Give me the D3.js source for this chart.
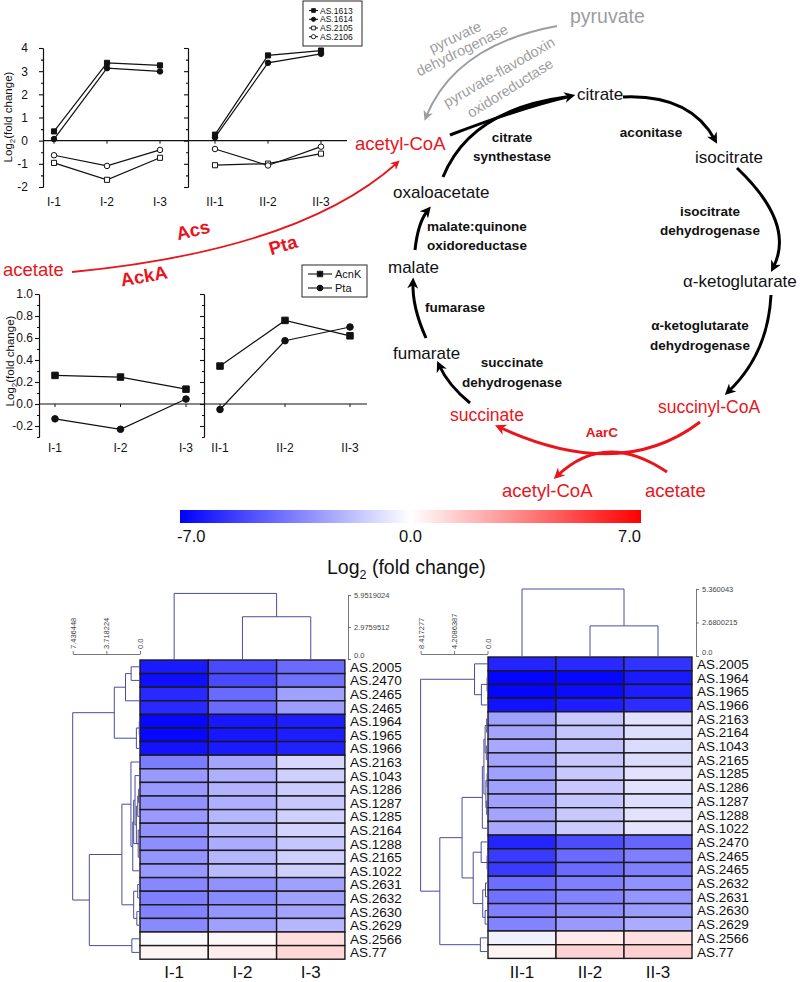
<!DOCTYPE html>
<html>
<head>
<meta charset="utf-8">
<script src="https://cdn.jsdelivr.net/npm/d3@7"></script>
<style>
body { margin: 0; background: #fff; }
svg { display: block; }
</style>
</head>
<body>
<svg id="fig" width="800" height="982"></svg>
<script>
// ---- values ----
const groupI = ["I-1", "I-2", "I-3"];
const groupII = ["II-1", "II-2", "II-3"];

// top line chart: log2 fold change at I-1..I-3, II-1..II-3
const topNames = ["AS.1613", "AS.1614", "AS.2105", "AS.2106"];
const as1613 = [0.40, 3.36, 3.25, 0.26, 3.68, 3.89];
const as1614 = [0.07, 3.13, 2.99, 0.14, 3.36, 3.75];
const as2105 = [-0.96, -1.69, -0.74, -1.06, -0.99, -0.56];
const as2106 = [-0.63, -1.09, -0.40, -0.36, -1.07, -0.26];
const topTicks = [-2, -1, 0, 1, 2, 3, 4];
const topMinor = [-1.5, -0.5, 0.5, 1.5, 2.5, 3.5];

// middle line chart
const midNames = ["AcnK", "Pta"];
const acnK = [0.26, 0.245, 0.135, 0.345, 0.76, 0.62];
const pta = [-0.135, -0.23, 0.045, -0.05, 0.575, 0.70];
const midTicks = [-0.2, 0.0, 0.2, 0.4, 0.6, 0.8, 1.0];
const midMinor = [-0.3, -0.1, 0.1, 0.3, 0.5, 0.7, 0.9];

// heatmaps
const leftGenes = ["AS.2005", "AS.2470", "AS.2465", "AS.2465", "AS.1964", "AS.1965", "AS.1966", "AS.2163",
  "AS.1043", "AS.1286", "AS.1287", "AS.1285", "AS.2164", "AS.1288", "AS.2165", "AS.1022",
  "AS.2631", "AS.2632", "AS.2630", "AS.2629", "AS.2566", "AS.77"];
const leftI1 = [-6.3, -6.6, -5.9, -5.9, -6.8, -6.8, -6.5, -3.6, -2.8, -2.8, -3.0, -2.8, -3.0, -3.1, -2.9, -2.8, -3.3, -3.5, -3.4, -3.2, -0.1, 0.3];
const leftI2 = [-5.0, -5.0, -4.1, -4.1, -6.4, -6.4, -6.3, -2.5, -2.2, -2.1, -2.2, -2.0, -2.0, -2.3, -2.0, -1.9, -3.0, -3.2, -2.9, -2.6, 0.2, 0.5];
const leftI3 = [-4.1, -3.9, -2.6, -2.7, -6.2, -6.2, -6.1, -1.1, -1.3, -1.4, -1.5, -1.3, -1.2, -1.6, -1.3, -1.3, -2.6, -2.6, -2.5, -2.0, 0.9, 1.1];

const rightGenes = ["AS.2005", "AS.1964", "AS.1965", "AS.1966", "AS.2163", "AS.2164", "AS.1043", "AS.2165",
  "AS.1285", "AS.1286", "AS.1287", "AS.1288", "AS.1022", "AS.2470", "AS.2465", "AS.2465",
  "AS.2632", "AS.2631", "AS.2630", "AS.2629", "AS.2566", "AS.77"];
const rightII1 = [-6.0, -6.9, -6.9, -6.5, -2.6, -2.5, -2.4, -2.5, -2.6, -2.6, -2.6, -2.5, -2.4, -6.0, -5.4, -5.4, -4.0, -3.9, -3.5, -3.4, -0.4, 0.3];
const rightII2 = [-5.9, -6.8, -6.7, -6.2, -1.5, -1.6, -1.7, -1.5, -1.5, -1.5, -1.6, -1.5, -1.4, -4.9, -4.1, -4.1, -3.5, -3.4, -3.1, -2.8, 0.6, 1.2];
const rightII3 = [-5.6, -6.3, -6.2, -5.8, -0.8, -0.9, -1.0, -0.95, -0.8, -0.8, -0.9, -0.8, -0.75, -4.2, -3.5, -3.5, -3.0, -2.9, -2.7, -2.3, 0.85, 1.3];

// dendrogram merges [a, b, height]; leaves are indices, merged nodes are numbered after the leaves
const leftRowMerges = [[0, 1, 0.98], [2, 3, 0.05], [22, 23, 1.6], [4, 5, 0.08], [25, 6, 0.4], [24, 26, 2.84],
  [9, 10, 0.15], [28, 11, 0.25], [12, 14, 0.2], [29, 30, 0.4], [8, 31, 0.55], [32, 13, 0.7], [33, 15, 0.8], [7, 34, 1.0],
  [16, 17, 0.25], [18, 19, 0.35], [36, 37, 0.7], [35, 38, 2.0], [20, 21, 0.9], [39, 40, 5.6], [27, 41, 7.436448]];
const rightRowMerges = [[1, 2, 0.05], [22, 3, 0.77], [0, 23, 1.63],
  [4, 5, 0.1], [6, 7, 0.15], [8, 9, 0.05], [10, 11, 0.1], [27, 28, 0.2], [25, 26, 0.3], [30, 29, 0.45], [31, 12, 0.65],
  [14, 15, 0.05], [13, 33, 0.8], [16, 17, 0.25], [18, 19, 0.3], [35, 36, 0.6], [34, 37, 1.8], [32, 38, 3.2],
  [20, 21, 0.9], [39, 40, 6.0], [24, 41, 8.417277]];
const leftColMerges = [[1, 2, 3.93], [0, 3, 6.1]];
const rightColMerges = [[1, 2, 2.41], [0, 3, 5.36]];
const leftRowScale = [0.0, 3.718224, 7.436448];
const leftColScale = [0.0, 2.9759512, 5.9519024];
const rightRowScale = [0.0, 4.2086387, 8.417277];
const rightColScale = [0.0, 2.6800215, 5.360043];
const colorTicks = [-7.0, 0.0, 7.0];

// ---- drawing ----
const FONT = '"Liberation Sans", Arial, sans-serif';
const RED = "#e8151c", GRAY = "#9d9d9d", DENDRO = "#4c4c9c", INK = "#111";
const svg = d3.select("#fig").attr("font-family", FONT);
const defs = svg.append("defs");
const heat = d3.scaleLinear().domain([-7, 0, 7]).range(["#0000ff", "#ffffff", "#ff0000"]);

[["arrBlack", "#000", 12, 11], ["arrRed", RED, 12, 11], ["arrRedThin", RED, 10, 9], ["arrGray", GRAY, 11, 10]]
  .forEach(([id, c, w, h]) => {
    defs.append("marker").attr("id", id).attr("viewBox", "0 0 10 10")
      .attr("refX", 6).attr("refY", 5).attr("markerWidth", w).attr("markerHeight", h)
      .attr("markerUnits", "userSpaceOnUse").attr("orient", "auto")
      .append("path").attr("d", "M0,0L10,5L0,10L3,5Z").attr("fill", c);
  });

function lineChart(o) {
  const g = svg.append("g");
  const y = d3.scaleLinear().domain(o.yDomain).range(o.yRange);
  const xI = d3.scalePoint().domain(groupI).range(o.xI);
  const xII = d3.scalePoint().domain(groupII).range(o.xII);
  const labels = groupI.concat(groupII);
  const xOf = i => i < 3 ? xI(groupI[i]) : xII(groupII[i - 3]);

  const axis = (x, ticks, size, fmt, pad) => g.append("g")
    .attr("transform", `translate(${x},0)`)
    .call(d3.axisLeft(y).tickValues(ticks).tickSize(size).tickSizeOuter(0).tickPadding(pad).tickFormat(fmt))
    .attr("font-size", 12).attr("font-family", FONT);
  axis(o.axisX, o.ticks, 4, o.fmt, o.pad);
  axis(o.axisX, o.minor, 2, "", 0);
  axis(o.breakX, o.ticks, 4, "", 0);
  axis(o.breakX, o.minor, 2, "", 0);
  g.selectAll(".domain, .tick line").attr("stroke", INK).attr("stroke-width", 1.1);
  g.selectAll(".tick text").attr("fill", INK);

  g.append("line").attr("x1", o.axisX).attr("x2", o.zeroEnd).attr("y1", y(0)).attr("y2", y(0))
    .attr("stroke", INK).attr("stroke-width", 1.1);
  g.selectAll("line.xt").data(labels).join("line").attr("class", "xt")
    .attr("x1", (d, i) => xOf(i)).attr("x2", (d, i) => xOf(i))
    .attr("y1", y(0)).attr("y2", y(0) + 3).attr("stroke", INK);
  g.selectAll("text.xl").data(labels).join("text").attr("class", "xl")
    .attr("x", (d, i) => xOf(i)).attr("y", o.labelY).attr("text-anchor", "middle")
    .attr("font-size", 12).attr("fill", INK).text(d => d);

  const sym = (s, size) => d3.symbol(s.shape === "square" ? d3.symbolSquare : d3.symbolCircle,
    s.shape === "square" ? size.sq : size.ci)();
  o.series.forEach(s => {
    [[0, 1, 2], [3, 4, 5]].forEach(idx => {
      g.append("path").datum(idx)
        .attr("d", d3.line().x(i => xOf(i)).y(i => y(s.vals[i])))
        .attr("fill", "none").attr("stroke", INK).attr("stroke-width", 1.2);
    });
  });
  o.series.forEach(s => {
    g.selectAll(null).data(s.vals).join("path")
      .attr("transform", (v, i) => `translate(${xOf(i)},${y(v)})`)
      .attr("d", sym(s, o.mark))
      .attr("fill", s.open ? "#fff" : INK).attr("stroke", INK).attr("stroke-width", 1);
  });

  const t = g.append("text").attr("transform", `translate(${o.titleX},${o.titleY}) rotate(-90)`)
    .attr("text-anchor", "middle").attr("font-size", 11.5).attr("fill", INK);
  t.append("tspan").text("Log");
  t.append("tspan").attr("font-size", 8).attr("dy", 3).text("2");
  t.append("tspan").attr("dy", -3).text("(fold change)");

  const L = o.legend;
  g.append("rect").attr("x", L.x).attr("y", L.y).attr("width", L.w).attr("height", L.h)
    .attr("fill", "#fff").attr("stroke", INK).attr("stroke-width", 0.9);
  const ent = g.selectAll("g.leg").data(o.series).join("g").attr("class", "leg")
    .attr("transform", (s, i) => `translate(0,${L.rows[i]})`);
  ent.append("line").attr("x1", L.lx[0]).attr("x2", L.lx[1]).attr("stroke", INK).attr("stroke-width", 1.1);
  ent.append("path").attr("transform", `translate(${(L.lx[0] + L.lx[1]) / 2},0)`)
    .attr("d", s => sym(s, L.mark)).attr("fill", s => s.open ? "#fff" : INK).attr("stroke", INK).attr("stroke-width", 0.9);
  ent.append("text").attr("x", L.tx).attr("dy", "0.36em").attr("font-size", L.fs).attr("fill", INK).text(s => s.name);
}

lineChart({
  yDomain: [-2, 4], yRange: [187, 48], ticks: topTicks, minor: topMinor,
  fmt: d => String(d), pad: 11, axisX: 43, breakX: 188, zeroEnd: 347,
  xI: [54, 160], xII: [215, 321], labelY: 206, titleX: 12, titleY: 117,
  mark: {sq: 26, ci: 24},
  series: [
    {name: topNames[0], vals: as1613, shape: "square", open: false},
    {name: topNames[1], vals: as1614, shape: "circle", open: false},
    {name: topNames[2], vals: as2105, shape: "square", open: true},
    {name: topNames[3], vals: as2106, shape: "circle", open: true}
  ],
  legend: {x: 303, y: 1, w: 59, h: 45, rows: [10.5, 19.3, 28, 36.7], lx: [309, 318], tx: 320, fs: 8.5,
    mark: {sq: 14, ci: 14}}
});

lineChart({
  yDomain: [-0.3, 1.0], yRange: [437, 294], ticks: midTicks, minor: midMinor,
  fmt: d => d.toFixed(1), pad: 2, axisX: 39, breakX: 204, zeroEnd: 367,
  xI: [55, 186], xII: [220, 350], labelY: 452, titleX: 14, titleY: 361,
  mark: {sq: 42, ci: 34},
  series: [
    {name: midNames[0], vals: acnK, shape: "square", open: false},
    {name: midNames[1], vals: pta, shape: "circle", open: false}
  ],
  legend: {x: 302, y: 265, w: 65, h: 32, rows: [274, 288], lx: [308, 332], tx: 335, fs: 11,
    mark: {sq: 30, ci: 26}}
});

// ---- pathway diagram ----
const pw = svg.append("g");
const arcs = [
  {p: [[450, 135], [520, 108], [571, 96]], c: "#000", w: 3, m: "arrBlack"},
  {p: [[443, 177], [470, 110], [566, 97]], c: "#000", w: 3, m: null},
  {p: [[623, 97], [690, 94], [715, 140]], c: "#000", w: 3, m: "arrBlack"},
  {p: [[737, 168], [796, 224], [773, 268]], c: "#000", w: 3, m: "arrBlack"},
  {p: [[771, 295], [768, 354], [728, 392]], c: "#000", w: 3, m: "arrBlack"},
  {p: [[470, 403], [448, 385], [439, 365]], c: "#000", w: 3, m: "arrBlack"},
  {p: [[426, 338], [412, 307], [413, 282]], c: "#000", w: 3, m: "arrBlack"},
  {p: [[415, 250], [418, 222], [428, 210]], c: "#000", w: 3, m: "arrBlack"},
  {p: [[557, 26], [455, 45], [426, 117]], c: GRAY, w: 2, m: "arrGray"},
  {p: [[72, 272], [300, 250], [397, 163]], c: RED, w: 1.8, m: "arrRedThin"},
  {p: [[700, 422], [620, 483], [499, 427]], c: RED, w: 3, m: "arrRed"},
  {p: [[667, 472], [605, 430], [557, 476]], c: RED, w: 3, m: "arrRed"}
];
pw.selectAll("path.arc").data(arcs).join("path").attr("class", "arc")
  .attr("d", a => `M${a.p[0]}Q${a.p[1]} ${a.p[2]}`)
  .attr("fill", "none").attr("stroke", a => a.c).attr("stroke-width", a => a.w)
  .attr("marker-end", a => a.m ? `url(#${a.m})` : null);

const compounds = [
  {t: "pyruvate", x: 570, y: 23, s: 19.5, c: GRAY},
  {t: "citrate", x: 577, y: 100, s: 17, c: INK},
  {t: "acetyl-CoA", x: 355, y: 150, s: 18.5, c: RED},
  {t: "isocitrate", x: 695, y: 163, s: 17, c: INK},
  {t: "oxaloacetate", x: 393, y: 198, s: 17, c: INK},
  {t: "malate", x: 388, y: 273, s: 17, c: INK},
  {t: "α-ketoglutarate", x: 683, y: 287, s: 17, c: INK},
  {t: "fumarate", x: 393, y: 359, s: 17, c: INK},
  {t: "succinyl-CoA", x: 658, y: 413, s: 17.5, c: RED},
  {t: "succinate", x: 450, y: 421, s: 17.5, c: RED},
  {t: "acetyl-CoA", x: 502, y: 497, s: 18.5, c: RED},
  {t: "acetate", x: 645, y: 497, s: 18.5, c: RED},
  {t: "acetate", x: 3, y: 276, s: 18.5, c: RED}
];
pw.selectAll("text.cpd").data(compounds).join("text").attr("class", "cpd")
  .attr("x", d => d.x).attr("y", d => d.y).attr("font-size", d => d.s).attr("fill", d => d.c).text(d => d.t);

const enzymes = [
  {t: "citrate", x: 512, y: 142}, {t: "synthestase", x: 512, y: 161},
  {t: "aconitase", x: 651, y: 137},
  {t: "isocitrate", x: 710, y: 216}, {t: "dehydrogenase", x: 710, y: 235},
  {t: "malate:quinone", x: 477, y: 231}, {t: "oxidoreductase", x: 477, y: 250},
  {t: "fumarase", x: 455, y: 312},
  {t: "α-ketoglutarate", x: 700, y: 330}, {t: "dehydrogenase", x: 700, y: 350},
  {t: "succinate", x: 512, y: 367}, {t: "dehydrogenase", x: 512, y: 387},
  {t: "AarC", x: 602, y: 437, c: RED}
];
pw.selectAll("text.enz").data(enzymes).join("text").attr("class", "enz")
  .attr("x", d => d.x).attr("y", d => d.y).attr("text-anchor", "middle")
  .attr("font-size", 13.5).attr("font-weight", "bold").attr("fill", d => d.c || INK).text(d => d.t);

const rotated = [
  {t: "pyruvate", x: 455, y: 37, r: -25, s: 14.5, c: GRAY, b: "normal"},
  {t: "dehydrogenase", x: 462, y: 50, r: -26, s: 14.5, c: GRAY, b: "normal"},
  {t: "pyruvate-flavodoxin", x: 499, y: 72, r: -30, s: 14.5, c: GRAY, b: "normal"},
  {t: "oxidoreductase", x: 510, y: 88, r: -32, s: 14.5, c: GRAY, b: "normal"},
  {t: "Acs", x: 193, y: 230, r: -13, s: 18.5, c: RED, b: "bold"},
  {t: "AckA", x: 144, y: 276, r: -10, s: 18.5, c: RED, b: "bold"},
  {t: "Pta", x: 283, y: 245, r: -16, s: 18.5, c: RED, b: "bold"}
];
pw.selectAll("text.rot").data(rotated).join("text").attr("class", "rot")
  .attr("transform", d => `translate(${d.x},${d.y}) rotate(${d.r})`)
  .attr("text-anchor", "middle").attr("dy", "0.35em")
  .attr("font-size", d => d.s).attr("font-weight", d => d.b).attr("fill", d => d.c).text(d => d.t);

// ---- colour bar ----
const cbX = d3.scaleLinear().domain([-7, 7]).range([180, 641]);
const grad = defs.append("linearGradient").attr("id", "cbar");
grad.selectAll("stop").data(colorTicks).join("stop")
  .attr("offset", d => (cbX(d) - 180) / 461).attr("stop-color", d => heat(d));
svg.append("rect").attr("x", cbX(-7)).attr("y", 510).attr("width", cbX(7) - cbX(-7)).attr("height", 13)
  .attr("fill", "url(#cbar)");
svg.selectAll("text.cb").data(colorTicks).join("text").attr("class", "cb")
  .attr("x", (d, i) => cbX(d) + [-3, 0, 0][i]).attr("y", 542)
  .attr("text-anchor", (d, i) => ["start", "middle", "end"][i])
  .attr("font-size", 16.5).attr("fill", INK).text(d => d.toFixed(1));
const lt = svg.append("text").attr("x", 327).attr("y", 574).attr("font-size", 19.5).attr("fill", INK);
lt.append("tspan").text("Log");
lt.append("tspan").attr("font-size", 12.5).attr("dy", 5).text("2");
lt.append("tspan").attr("dy", -5).text(" (fold change)");

// ---- heatmaps with dendrograms ----
function layoutMerges(list, leafPos) {
  const pos = leafPos.slice(), hgt = leafPos.map(() => 0);
  return list.map(([a, b, h]) => {
    const s = {a: pos[a], ha: hgt[a], b: pos[b], hb: hgt[b], h};
    pos.push((pos[a] + pos[b]) / 2);
    hgt.push(h);
    return s;
  });
}
const scaleText = v => v === 0 ? "0.0" : String(v);

function heatmap(o) {
  const g = svg.append("g");
  const n = o.genes.length;
  const y = d3.scaleBand().domain(d3.range(n)).range([o.top, o.top + o.rowH * n]);
  const x = d3.scaleBand().domain(o.colNames).range([o.left, o.left + o.colW * 3]);
  const cells = o.cols.flatMap((col, j) => col.map((v, i) => ({i, j, v})));
  g.selectAll("rect").data(cells).join("rect")
    .attr("x", d => x(o.colNames[d.j])).attr("y", d => y(d.i))
    .attr("width", x.bandwidth()).attr("height", y.bandwidth())
    .attr("fill", d => heat(d.v)).attr("stroke", "#1a1a1a").attr("stroke-width", 1.4);
  g.selectAll("text.gene").data(o.genes).join("text").attr("class", "gene")
    .attr("x", o.left + o.colW * 3 + 5).attr("y", (d, i) => y(i) + y.bandwidth() / 2).attr("dy", "0.37em")
    .attr("font-size", 13.5).attr("fill", INK).text(d => d);
  g.selectAll("text.col").data(o.colNames).join("text").attr("class", "col")
    .attr("x", d => x(d) + x.bandwidth() / 2).attr("y", o.labelY).attr("text-anchor", "middle")
    .attr("font-size", 17).attr("fill", INK).text(d => d);

  // row dendrogram
  const hx = d3.scaleLinear().domain([0, o.rowScale[2]]).range([o.rowZero, o.rowMaxX]);
  const rowSegs = layoutMerges(o.rowMerges, d3.range(n).map(i => y(i) + y.bandwidth() / 2));
  g.selectAll("path.rd").data(rowSegs).join("path").attr("class", "rd")
    .attr("d", s => `M${hx(s.ha)},${s.a}H${hx(s.h)}V${s.b}H${hx(s.hb)}`)
    .attr("fill", "none").attr("stroke", DENDRO).attr("stroke-width", 1);
  const ra = g.append("g").attr("transform", `translate(0,${o.rowAxisY})`)
    .call(d3.axisTop(hx).tickValues(o.rowScale).tickSize(3).tickSizeOuter(0).tickFormat(""));
  ra.selectAll(".domain, line").attr("stroke", "#555").attr("stroke-width", 0.8);
  g.selectAll("text.rs").data(o.rowScale).join("text").attr("class", "rs")
    .attr("transform", d => `translate(${hx(d) + 3},${o.rowAxisY - 5}) rotate(-90)`)
    .attr("font-size", 7.5).attr("fill", "#444").text(scaleText);

  // column dendrogram
  const vy = d3.scaleLinear().domain([0, o.colScale[2]]).range([o.colZero, o.colMaxY]);
  const colSegs = layoutMerges(o.colMerges, o.colNames.map(c => x(c) + x.bandwidth() / 2));
  g.selectAll("path.cd").data(colSegs).join("path").attr("class", "cd")
    .attr("d", s => `M${s.a},${vy(s.ha)}V${vy(s.h)}H${s.b}V${vy(s.hb)}`)
    .attr("fill", "none").attr("stroke", DENDRO).attr("stroke-width", 1);
  const ca = g.append("g").attr("transform", `translate(${o.colAxisX},0)`)
    .call(d3.axisRight(vy).tickValues(o.colScale).tickSize(3).tickSizeOuter(0).tickFormat(""));
  ca.selectAll(".domain, line").attr("stroke", "#555").attr("stroke-width", 0.8);
  g.selectAll("text.cs").data(o.colScale).join("text").attr("class", "cs")
    .attr("x", o.colAxisX + 6).attr("y", d => vy(d) - (d === 0 ? o.zeroLift : 0)).attr("dy", "0.35em")
    .attr("font-size", 7.5).attr("fill", "#444").text(scaleText);
}

heatmap({
  genes: leftGenes, cols: [leftI1, leftI2, leftI3], colNames: groupI,
  left: 140, top: 660, rowH: 13.6, colW: 68.3, labelY: 978,
  rowMerges: leftRowMerges, rowScale: leftRowScale, rowZero: 140, rowMaxX: 72.7, rowAxisY: 654,
  colMerges: leftColMerges, colScale: leftColScale, colZero: 659, colMaxY: 595, colAxisX: 348, zeroLift: 4
});
heatmap({
  genes: rightGenes, cols: [rightII1, rightII2, rightII3], colNames: groupII,
  left: 488, top: 657, rowH: 13.7, colW: 68, labelY: 978,
  rowMerges: rightRowMerges, rowScale: rightRowScale, rowZero: 487.5, rowMaxX: 420.6, rowAxisY: 654,
  colMerges: rightColMerges, colScale: rightColScale, colZero: 656, colMaxY: 589, colAxisX: 696, zeroLift: 4
});
</script>
</body>
</html>
